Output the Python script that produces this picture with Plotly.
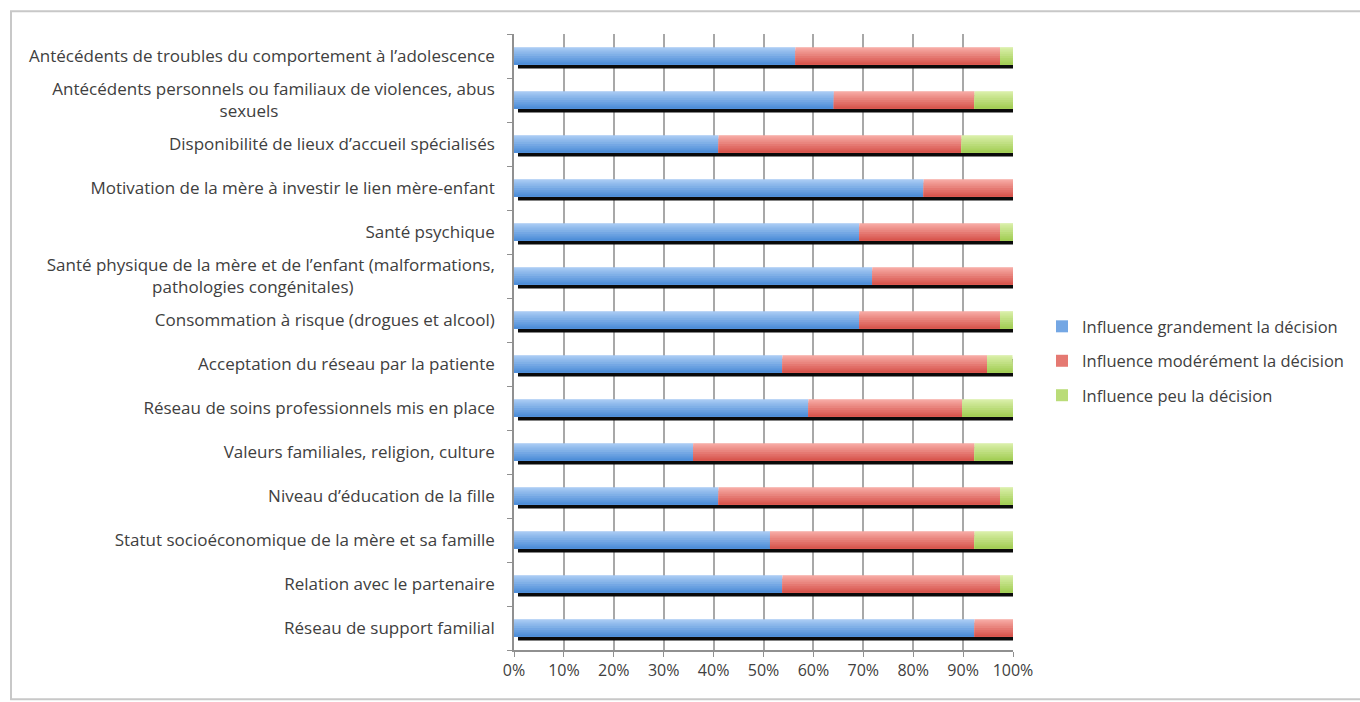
import plotly.graph_objects as go

NBSP = "\u00a0"

# Factors, listed top to bottom
categories = [
    "Antécédents de troubles du comportement à l’adolescence",
    "Antécédents personnels ou familiaux de violences, abus<br>sexuels" + NBSP * 49,
    "Disponibilité de lieux d’accueil spécialisés",
    "Motivation de la mère à investir le lien mère-enfant",
    "Santé psychique",
    "Santé physique de la mère et de l’enfant (malformations,<br>pathologies congénitales)" + NBSP * 32,
    "Consommation à risque (drogues et alcool)",
    "Acceptation du réseau par la patiente",
    "Réseau de soins professionnels mis en place",
    "Valeurs familiales, religion, culture",
    "Niveau d’éducation de la fille",
    "Statut socioéconomique de la mère et sa famille",
    "Relation avec le partenaire",
    "Réseau de support familial",
]

# Share of answers (%) per level of influence
grandement = [56.4, 64.1, 41.0, 82.1, 69.2, 71.8, 69.2, 53.8, 59.0, 35.9, 41.0, 51.3, 53.8, 92.3]
moderement = [41.0, 28.2, 48.7, 17.9, 28.2, 28.2, 28.2, 41.0, 30.8, 56.4, 56.4, 41.0, 43.6, 7.7]
peu = [2.6, 7.7, 10.3, 0.0, 2.6, 0.0, 2.6, 5.1, 10.3, 7.7, 2.6, 7.7, 2.6, 0.0]

series_names = [
    "Influence grandement la décision",
    "Influence modérément la décision",
    "Influence peu la décision",
]
# light (top) and dark (bottom) shade of each series
shade_top = [(166, 201, 243), (246, 168, 162), (216, 238, 166)]
shade_bottom = [(78, 142, 216), (216, 86, 78), (163, 206, 86)]

x_ticks = list(range(0, 101, 10))
x_labels = [f"{v}%" for v in x_ticks]

pos = list(range(len(categories)))
BAR_W = 0.4
N_STRIPES = 8
FONT = "Open Sans"
TXT = "#404040"


def mix(c1, c2, t):
    return "rgb({},{},{})".format(*[round(a + (b - a) * t) for a, b in zip(c1, c2)])


fig = go.Figure()

# dark drop shadow under every bar
fig.add_trace(go.Bar(
    y=[p + 0.085 for p in pos],
    x=[100 - 0.8] * len(pos),
    base=[0.8] * len(pos),
    orientation="h",
    width=BAR_W,
    marker=dict(color="#0a0a0a", line=dict(width=0)),
    showlegend=False,
    hoverinfo="skip",
))

values = [grandement, moderement, peu]
bases = [
    [0.0] * len(pos),
    list(grandement),
    [a + b for a, b in zip(grandement, moderement)],
]

# each series is painted as overlapping layers, each one reaching from a lower
# starting edge down to the bar bottom, so the colour darkens toward the bottom
step = BAR_W / N_STRIPES
for i, name in enumerate(series_names):
    for k in range(N_STRIPES):
        t = k / (N_STRIPES - 1)
        top = -BAR_W / 2 + k * step
        bottom = BAR_W / 2
        fig.add_trace(go.Bar(
            y=[p + (top + bottom) / 2 for p in pos],
            x=values[i],
            base=bases[i],
            orientation="h",
            width=bottom - top,
            name=name,
            legendgroup=name,
            showlegend=(k == N_STRIPES // 2),
            marker=dict(color=mix(shade_top[i], shade_bottom[i], t), line=dict(width=0)),
        ))

fig.update_layout(
    width=1360,
    height=702,
    barmode="overlay",
    plot_bgcolor="white",
    paper_bgcolor="white",
    margin=dict(l=514, r=346, t=34, b=52),
    font=dict(family=FONT, size=13, color=TXT),
    legend=dict(
        x=1.056, y=0.469, xanchor="left", yanchor="middle",
        font=dict(family=FONT, size=16.5, color=TXT),
        tracegroupgap=10,
        bgcolor="rgba(0,0,0,0)",
        itemwidth=30,
    ),
    showlegend=True,
    shapes=[dict(
        type="rect", xref="paper", yref="paper",
        x0=-1.008, x1=1.7, y0=-0.08, y1=1.037,
        line=dict(color="#c8c8c8", width=2), fillcolor="rgba(0,0,0,0)",
        layer="below",
    )],
)

fig.update_xaxes(
    range=[0, 100],
    tickvals=x_ticks,
    ticktext=x_labels,
    showgrid=True, gridcolor="#a8a8a8", gridwidth=1.5,
    showline=True, linecolor="#909090", linewidth=1.5,
    ticks="outside", ticklen=5, tickcolor="#909090",
    tickfont=dict(size=16, color=TXT),
    zeroline=False,
)

fig.update_yaxes(
    range=[len(pos) - 0.5, -0.5],
    tickvals=pos,
    ticktext=categories,
    showgrid=False,
    showline=True, linecolor="#909090", linewidth=1.5,
    ticks="", ticklabelstandoff=14,
    minor=dict(tick0=0.5, dtick=1, ticks="outside", ticklen=5, tickcolor="#909090", showgrid=False),
    tickfont=dict(size=17, color=TXT),
    zeroline=False,
)

fig.write_html("out.html")
